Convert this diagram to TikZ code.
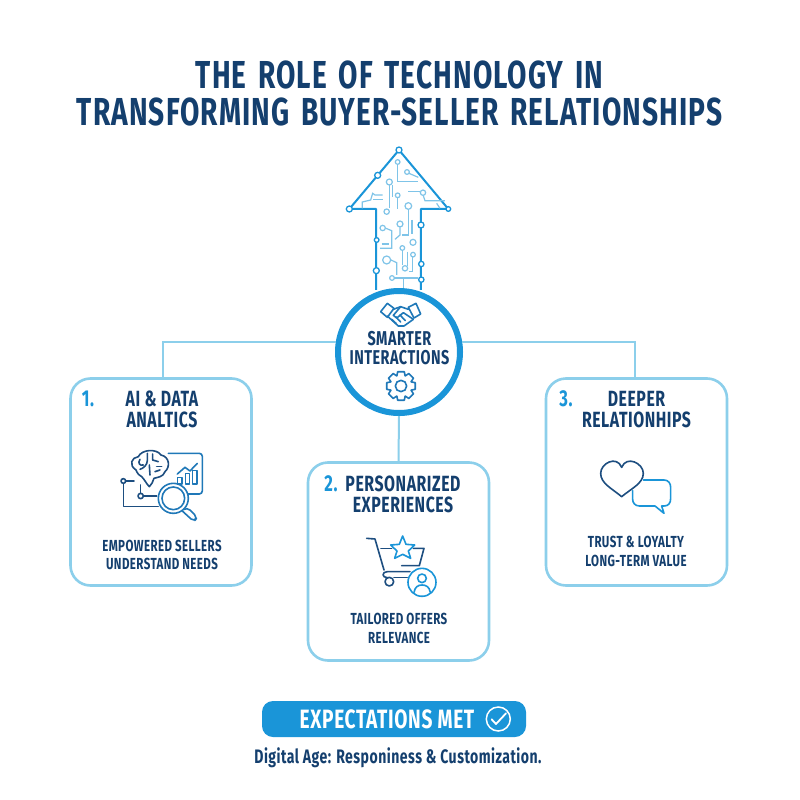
\documentclass[tikz,border=0pt]{standalone}
\usepackage{fontspec}
\setmainfont[FakeStretch=0.72,LetterSpace=2.5]{Fira Sans}
\newfontfamily\titlefont[FakeStretch=0.72,LetterSpace=2.8,WordSpace=1.5]{Fira Sans}
\definecolor{navy}{HTML}{143F6E}
\definecolor{inkblue}{HTML}{1D4E80}
\definecolor{midblue}{HTML}{1F78B8}
\definecolor{skyblue}{HTML}{1A95D8}
\definecolor{paleblue}{HTML}{8CCFEB}
\definecolor{traceblue}{HTML}{7FC4E8}
\tikzset{
    titletext/.style={font=\fontsize{39}{37}\selectfont\titlefont\bfseries,text=navy,align=center},
    headtext/.style={font=\fontsize{22}{21}\selectfont\bfseries,text=navy,align=center},
    hubtext/.style={font=\fontsize{20}{19}\selectfont\bfseries,text=navy,align=center},
    bodytext/.style={font=\fontsize{16}{18.5}\selectfont\bfseries,text=navy,align=center},
    numtext/.style={font=\fontsize{23}{21}\selectfont\bfseries,text=skyblue},
    cardbox/.style={draw=paleblue,line width=2.6pt,rounded corners=20pt,fill=white,minimum width=181pt},
    link/.style={draw=paleblue,line width=2pt},
    icon/.style={line width=1.6pt,line cap=round,line join=round},
    crop/.style 2 args={shift={(#1,#2)},x=0.3333pt,y=-0.3333pt}
}
\begin{document}
\begin{tikzpicture}[x=1pt,y=-1pt]
    \useasboundingbox (0,0) rectangle (800,800);
    \fill[white] (0,0) rectangle (800,800);

    \node[titletext] (title) at (399.5,93) {THE ROLE OF TECHNOLOGY IN\\TRANSFORMING BUYER-SELLER RELATIONSHIPS};

    \begin{scope}[crop={330}{140}]
        \draw[skyblue,line width=2pt,line join=round] (138,450) -- (138,207) -- (58,207) -- (207,30) -- (355,207) -- (273,207) -- (273,450);
        \foreach \px/\py/\pr in {207/30/9, 143/106/9, 58/207/9, 355/207/7, 140/300/7, 139/392/9, 273/255/9, 274/372/8, 274/419/8}
            \draw[skyblue,line width=1.3pt,fill=white] (\px,\py) circle (\pr);
        \begin{scope}[traceblue,line width=1.2pt]
            \draw (203,72) -- (203,125) -- (265,125);
            \draw (237,100) -- (265,112);
            \draw (178,136) -- (178,205);
            \draw (187,136) -- (187,170);
            \draw (203,175) -- (203,208);
            \draw (97,205) -- (97,186) -- (122,180) -- (128,160) -- (135,165) -- (158,165);
            \draw (130,178) -- (158,178);
            \draw (235,155) -- (270,155);
            \draw (280,167) -- (285,182) -- (345,182);
            \draw (320,190) -- (330,205);
            \draw (235,208) -- (235,285) -- (215,285);
            \draw (246,240) -- (246,282);
            \draw (210,262) -- (210,285) -- (195,298);
            \draw (168,265) -- (185,272) -- (185,325) -- (150,325);
            \draw (155,312) -- (178,312);
            \draw (217,332) -- (217,375);
            \draw (233,335) -- (233,378);
            \draw (248,352) -- (248,395) -- (238,395);
            \draw (183,360) -- (200,368) -- (200,405);
            \draw (192,414) -- (265,414);
            \draw (220,414) -- (220,445);
            \foreach \px/\py/\pr in {203/66/7, 231/96/7, 178/126/9, 203/166/7, 170/215/8, 279/158/8, 235/198/10, 158/264/8, 210/252/9, 249/307/9, 217/324/7, 170/360/12, 249/344/7, 225/385/8, 186/414/7}
                \draw[fill=white] (\px,\py) circle (\pr);
        \end{scope}
    \end{scope}

    \node[cardbox,minimum height=207pt] (box1) at (161,482) {};
    \node[cardbox,minimum height=198pt] (box2) at (398.5,561.5) {};
    \node[cardbox,minimum height=207pt] (box3) at (636.5,482) {};
    \node[circle,draw=skyblue,line width=6pt,fill=white,minimum size=122pt,inner sep=0pt] (hub) at (399,352) {};

    \draw[link] (hub.171) -| ([xshift=2pt]box1.north);
    \draw[link] (hub.9) -| ([xshift=-2pt]box3.north);
    \draw[link] (hub.south) -- (box2.north);

    \node[hubtext] (smart) at (399.5,348.5) {SMARTER\\INTERACTIONS};

    \begin{scope}[crop={330}{290},midblue,icon]
        \draw (152,65) -- (172,40) -- (192,55) -- (172,82) -- cycle;
        \draw (235,52) -- (258,40) -- (272,72) -- (252,84) -- cycle;
        \draw (190,58) -- (212,50) -- (235,58);
        \draw (212,50) -- (190,76) -- (200,84) -- (220,68) -- (250,88);
        \draw (172,78) -- (205,108) -- (222,108) -- (250,88);
        \draw (185,88) -- (198,100);
        \draw (197,80) -- (212,96);
        \draw (210,75) -- (226,92);
        \draw (213,288) circle (17);
        \draw[shift={(213,288)}] (-22:33) \foreach \a in {0,45,...,315} { -- (\a-22:33) -- (\a-13:44) -- (\a+13:44) -- (\a+22:33) } -- cycle;
    \end{scope}

    \node[numtext] (num1) at (88,399) {1.};
    \node[headtext] (head1) at (162,409.5) {AI \& DATA\\ANALTICS};
    \node[bodytext] (body1) at (162,555) {EMPOWERED SELLERS\\UNDERSTAND NEEDS};

    \begin{scope}[crop={60}{370},icon]
        \draw[inkblue] (228,300) .. controls (205,285) and (215,262) .. (235,260) .. controls (245,238) and (290,235) .. (303,255) .. controls (328,260) and (332,290) .. (315,305) .. controls (310,322) and (290,322) .. (282,325) .. controls (278,335) and (275,345) .. (268,350) .. controls (258,340) and (255,330) .. (245,320) .. controls (238,318) and (232,310) .. (228,300);
        \draw[inkblue] (240,268) .. controls (232,280) and (240,288) .. (250,285);
        \draw[inkblue] (262,250) -- (262,272) .. controls (262,285) and (250,295) .. (240,298);
        \draw[inkblue] (278,252) -- (278,270) -- (295,275);
        \draw[inkblue] (268,285) -- (270,315);
        \draw[inkblue] (290,290) -- (305,290);
        \draw[inkblue] (285,305) -- (300,300);
        \draw[midblue] (325,250) -- (420,250) [rounded corners=3pt] -- (427,250) -- (427,372) -- (352,372);
        \draw[midblue] (352,342) -- (352,322) -- (366,322) -- (366,342) -- cycle;
        \draw[midblue] (376,342) -- (376,310) -- (388,310) -- (388,342) -- cycle;
        \draw[midblue] (397,342) -- (397,302) -- (411,302) -- (411,342) -- cycle;
        \draw[midblue] (352,312) -- (375,292) -- (390,303) -- (412,280);
        \draw[midblue,fill=white] (340,385) circle (45);
        \draw[midblue] (340,385) circle (34);
        \draw[midblue,rounded corners=4pt] (372,418) -- (382,412) -- (412,442) -- (402,455) -- (368,424);
        \draw[inkblue] (198,333) -- (222,333);
        \draw[inkblue] (190,342) -- (190,410) -- (295,410);
        \draw[inkblue] (250,378) -- (290,378);
        \draw[inkblue] (242,370) -- (242,345);
        \draw[inkblue] (190,333) circle (7);
        \draw[inkblue] (242,378) circle (8);
    \end{scope}

    \node[numtext] (num2) at (331,484) {2.};
    \node[headtext] (head2) at (403,494.5) {PERSONARIZED\\EXPERIENCES};
    \node[bodytext] (body2) at (399,628.5) {TAILORED OFFERS\\RELEVANCE};

    \begin{scope}[crop={300}{455},icon]
        \draw[inkblue] (200,250) -- (225,252) -- (252,345);
        \draw[inkblue] (243,280) -- (275,280);
        \draw[inkblue] (340,280) -- (372,280) -- (358,332) -- (305,332);
        \draw[inkblue] (330,350) -- (262,350) .. controls (245,350) and (245,368) .. (262,368);
        \draw[inkblue] (282,368) -- (322,368);
        \draw[inkblue] (268,380) circle (13);
        \draw[skyblue] (308,243) -- (318,268) -- (344,270) -- (325,288) -- (332,310) -- (308,298) -- (284,310) -- (291,288) -- (272,270) -- (298,268) -- cycle;
        \draw[skyblue,fill=white] (366,382) circle (42);
        \draw[skyblue] (366,370) circle (13);
        \draw[skyblue] (342,412) .. controls (345,395) and (355,390) .. (366,390) .. controls (378,390) and (388,395) .. (391,412);
    \end{scope}

    \node[numtext] (num3) at (566,399) {3.};
    \node[headtext] (head3) at (636.5,409.5) {DEEPER\\RELATIONHIPS};
    \node[bodytext] (body3) at (636,551.5) {TRUST \& LOYALTY\\LONG-TERM VALUE};

    \begin{scope}[crop={540}{370},icon]
        \draw[inkblue] (245,380) .. controls (215,355) and (182,340) .. (182,310) .. controls (182,280) and (230,255) .. (245,292) .. controls (260,255) and (310,280) .. (310,310) .. controls (310,340) and (275,355) .. (245,380) -- cycle;
        \draw[skyblue] (310,330) -- (372,330) .. controls (385,330) and (392,340) .. (392,352) -- (392,385) .. controls (392,400) and (385,408) .. (372,408) -- (365,408) -- (372,430) -- (345,408) -- (298,408) .. controls (285,408) and (278,398) .. (278,388) -- (278,362);
    \end{scope}

    \node[fill=skyblue,rounded corners=11pt,minimum width=264pt,minimum height=36pt] (pill) at (394,719) {};
    \node[font=\fontsize{26.5}{24}\selectfont\bfseries,text=white] (met) at (387,719) {EXPECTATIONS MET};
    \begin{scope}[crop={240}{690}]
        \node[circle,draw=white,line width=1.5pt,minimum size=24pt,inner sep=0pt] (tick) at (775,87) {};
        \draw[white,line width=1.8pt,line cap=round,line join=round] (755,88) -- (768,102) -- (798,70);
    \end{scope}
    \node[font=\fontsize{19.5}{17}\selectfont\bfseries,text=navy] (foot) at (398,758) {Digital Age: Responiness \& Customization.};
\end{tikzpicture}
\end{document}
